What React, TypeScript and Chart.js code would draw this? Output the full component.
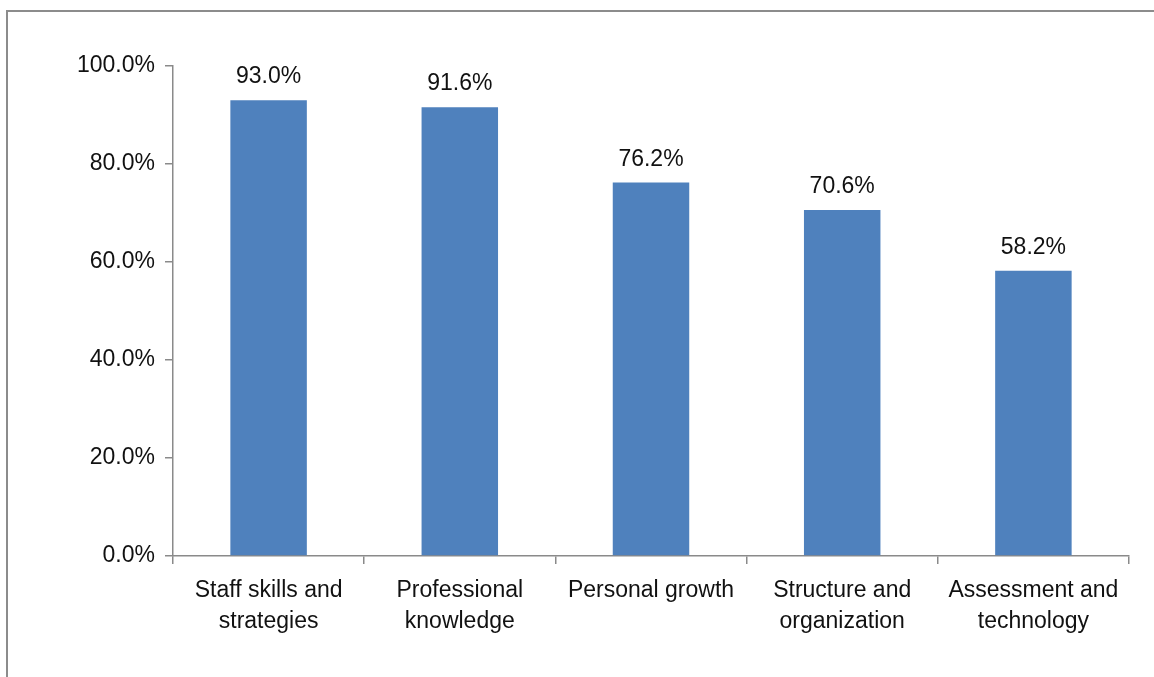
import React, { useEffect, useRef } from "react";
import { Chart, registerables } from "chart.js";

Chart.register(...registerables);

const categories: string[][] = [
  ["Staff skills and", "strategies"],
  ["Professional", "knowledge"],
  ["Personal growth"],
  ["Structure and", "organization"],
  ["Assessment and", "technology"],
];
const values: number[] = [93.0, 91.6, 76.2, 70.6, 58.2];
const yTicks: number[] = [0, 20, 40, 60, 80, 100];

const FONT = "'Liberation Sans', Arial, sans-serif";
const TEXT = "#111111";
const AXIS = "#8a8a8a";

const dataLabels = {
  id: "dataLabels",
  afterDatasetsDraw(chart: any) {
    const ctx = chart.ctx;
    const meta = chart.getDatasetMeta(0);
    ctx.save();
    ctx.font = `23px ${FONT}`;
    ctx.fillStyle = TEXT;
    ctx.textAlign = "center";
    ctx.textBaseline = "alphabetic";
    meta.data.forEach((bar: any, i: number) => {
      ctx.fillText(values[i].toFixed(1) + "%", bar.x, bar.y - 17);
    });
    ctx.restore();
  },
};

export default function App() {
  const ref = useRef<HTMLCanvasElement | null>(null);
  useEffect(() => {
    if (!ref.current) return;
    const chart = new Chart(ref.current, {
      type: "bar",
      data: {
        labels: categories,
        datasets: [
          {
            data: values,
            backgroundColor: "#4F81BD",
            borderWidth: 0,
            barPercentage: 0.4,
            categoryPercentage: 1,
          },
        ],
      },
      options: {
        responsive: false,
        animation: false,
        layout: { padding: { left: 0, right: 25, top: 66, bottom: 0 } },
        plugins: { legend: { display: false }, tooltip: { enabled: false } },
        scales: {
          x: {
            grid: {
              offset: true,
              drawOnChartArea: false,
              drawTicks: true,
              tickLength: 8,
              color: AXIS,
              lineWidth: 1.5,
            },
            border: { display: true, color: AXIS, width: 1.5 },
            ticks: {
              color: TEXT,
              font: { family: FONT, size: 23, lineHeight: 1.35 },
              padding: 11,
              maxRotation: 0,
              autoSkip: false,
            },
            afterFit(scale: any) {
              scale.height = 677 - 556;
            },
          },
          y: {
            min: 0,
            max: 100,
            afterBuildTicks(scale: any) {
              scale.ticks = yTicks.map((v) => ({ value: v }));
            },
            grid: {
              drawOnChartArea: false,
              drawTicks: true,
              tickLength: 8,
              color: AXIS,
              lineWidth: 1.5,
            },
            border: { display: true, color: AXIS, width: 1.5 },
            ticks: {
              color: TEXT,
              font: { family: FONT, size: 23 },
              padding: 10,
              callback: (v: any) => Number(v).toFixed(1) + "%",
            },
            afterFit(scale: any) {
              scale.width = 173;
            },
          },
        },
      },
      plugins: [dataLabels],
    });
    return () => chart.destroy();
  }, []);

  return (
    <div
      style={{
        position: "fixed",
        left: 0,
        top: 0,
        width: 1154,
        height: 677,
        overflow: "hidden",
        background: "#fff",
      }}
    >
      <div
        style={{
          position: "absolute",
          left: 6,
          top: 10,
          width: 1300,
          height: 800,
          border: "2px solid #8c8c8c",
        }}
      />
      <canvas
        ref={ref}
        width={1154}
        height={677}
        style={{ position: "absolute", left: 0, top: 0, width: 1154, height: 677 }}
      />
    </div>
  );
}
